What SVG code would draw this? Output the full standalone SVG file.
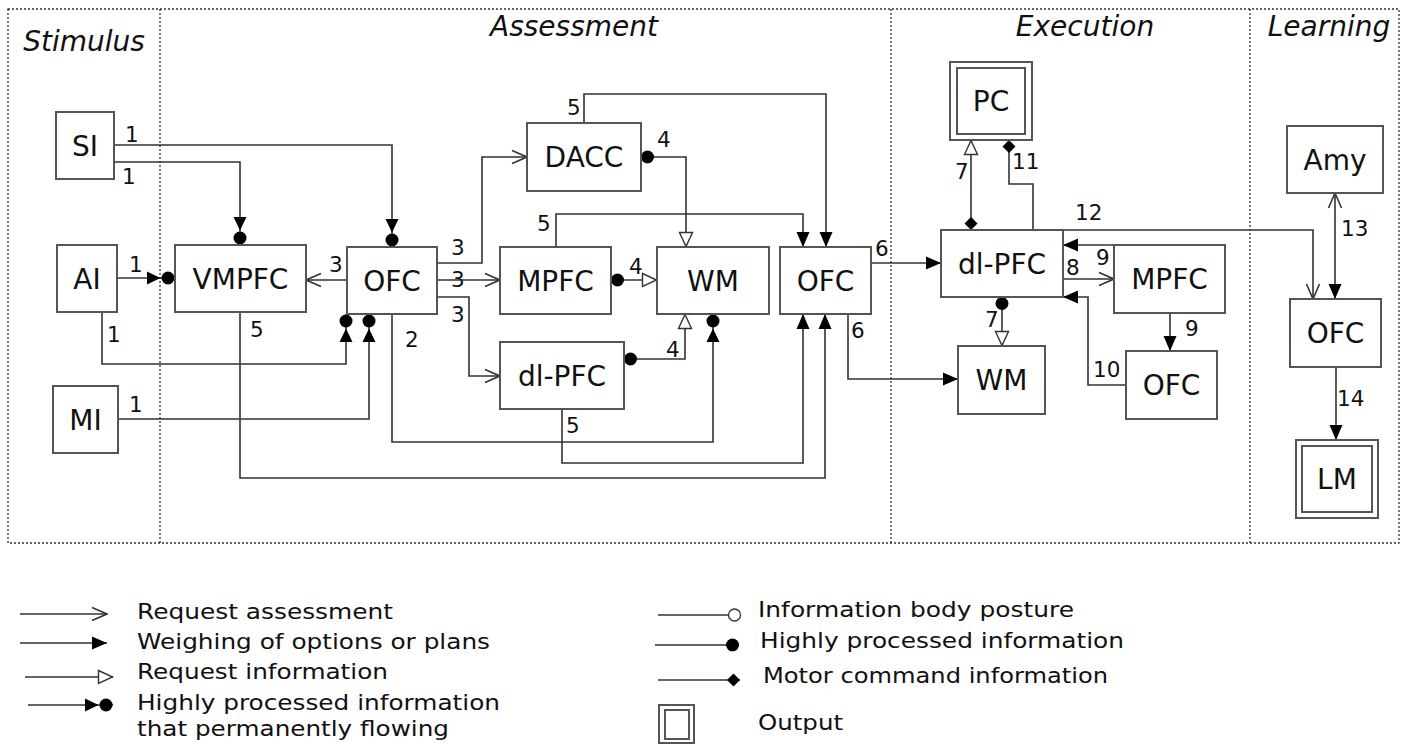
<svg xmlns="http://www.w3.org/2000/svg" width="1409" height="745" viewBox="0 0 1409 745">
<style>
.frame{fill:none;stroke:#333;stroke-width:1.3;stroke-dasharray:2,2}
.box{fill:#fff;stroke:#555;stroke-width:2}
.lbl{font-family:"DejaVu Sans","Liberation Sans",sans-serif;font-size:28px;fill:#111;text-anchor:middle}
.ttl{font-family:"DejaVu Sans","Liberation Sans",sans-serif;font-size:28px;font-style:italic;fill:#111;text-anchor:middle}
.num{font-family:"DejaVu Sans","Liberation Sans",sans-serif;font-size:21.5px;fill:#111}
.leg{font-family:"DejaVu Sans","Liberation Sans",sans-serif;font-size:22px;fill:#111}
.c{fill:none;stroke:#333;stroke-width:1.6}
</style>
<defs>
<marker id="tri" viewBox="-16 -8 17 16" refX="0" refY="0" markerWidth="17" markerHeight="16" markerUnits="userSpaceOnUse" orient="auto-start-reverse"><path d="M-15,-6.5 L0,0 L-15,6.5 Z" fill="#000"/></marker>
<marker id="chev" viewBox="-17 -9 18 18" refX="0" refY="0" markerWidth="18" markerHeight="18" markerUnits="userSpaceOnUse" orient="auto-start-reverse"><path d="M-15,-6.5 L0,0 L-15,6.5" fill="none" stroke="#333" stroke-width="1.6"/></marker>
<marker id="otri" viewBox="-16 -9 18 18" refX="0" refY="0" markerWidth="18" markerHeight="18" markerUnits="userSpaceOnUse" orient="auto-start-reverse"><path d="M-14.5,-6.5 L-0.5,0 L-14.5,6.5 Z" fill="#fff" stroke="#333" stroke-width="1.4"/></marker>
<marker id="tridot" viewBox="-30 -8 31 16" refX="0" refY="0" markerWidth="31" markerHeight="16" markerUnits="userSpaceOnUse" orient="auto-start-reverse"><circle cx="-7" cy="0" r="6.5" fill="#000"/><path d="M-28,-6.5 L-14.5,0 L-28,6.5 Z" fill="#000"/></marker>
<marker id="dot" viewBox="-14 -8 15 16" refX="0" refY="0" markerWidth="15" markerHeight="16" markerUnits="userSpaceOnUse" orient="auto-start-reverse"><circle cx="-6.5" cy="0" r="6.5" fill="#000"/></marker>
<marker id="ocirc" viewBox="-14 -8 15 16" refX="0" refY="0" markerWidth="15" markerHeight="16" markerUnits="userSpaceOnUse" orient="auto-start-reverse"><circle cx="-6.5" cy="0" r="6" fill="#fff" stroke="#333" stroke-width="1.3"/></marker>
<marker id="dmd" viewBox="-15 -8 16 16" refX="0" refY="0" markerWidth="16" markerHeight="16" markerUnits="userSpaceOnUse" orient="auto-start-reverse"><path d="M-13,0 L-6.5,-6.5 L0,0 L-6.5,6.5 Z" fill="#000"/></marker>
</defs>

<g id="frame">
<rect class="frame" x="8" y="9" width="1391" height="534"/>
<line class="frame" x1="160" y1="9" x2="160" y2="543"/>
<line class="frame" x1="891" y1="9" x2="891" y2="543"/>
<line class="frame" x1="1250" y1="9" x2="1250" y2="543"/>
<text class="ttl" x="84" y="51">Stimulus</text>
<text class="ttl" x="574" y="36">Assessment</text>
<text class="ttl" x="1085" y="36">Execution</text>
<text class="ttl" x="1329" y="36">Learning</text>
</g>

<g id="connectors">
<path class="c" d="M114,145 H392 V247" marker-end="url(#tridot)"/>
<path class="c" d="M114,162 H240 V245" marker-end="url(#tridot)"/>
<path class="c" d="M117,278 H175" marker-end="url(#tridot)"/>
<path class="c" d="M102,312 V364 H346 V314" marker-end="url(#tridot)"/>
<path class="c" d="M118,419 H369 V314" marker-end="url(#tridot)"/>
<path class="c" d="M347,280 H306" marker-end="url(#chev)"/>
<path class="c" d="M437,263 H482 V157 H527" marker-end="url(#chev)"/>
<path class="c" d="M437,280 H500" marker-end="url(#chev)"/>
<path class="c" d="M437,297 H469 V376 H500" marker-end="url(#chev)"/>
<path class="c" d="M584,123 V94 H826 V247" marker-end="url(#tri)"/>
<path class="c" d="M556,247 V214 H803 V247" marker-end="url(#tri)"/>
<path class="c" d="M641,157 H686 V247" marker-start="url(#dot)" marker-end="url(#otri)"/>
<path class="c" d="M611,280 H657" marker-start="url(#dot)" marker-end="url(#otri)"/>
<path class="c" d="M624,359 H685 V314" marker-start="url(#dot)" marker-end="url(#otri)"/>
<path class="c" d="M392,314 V442 H713 V314" marker-end="url(#tridot)"/>
<path class="c" d="M562,409 V463 H803 V314" marker-end="url(#tri)"/>
<path class="c" d="M240,312 V478 H825 V314" marker-end="url(#tri)"/>
<path class="c" d="M871,263 H941" marker-end="url(#tri)"/>
<path class="c" d="M848,314 V379 H958" marker-end="url(#tri)"/>
<path class="c" d="M971,230 V140" marker-start="url(#dmd)" marker-end="url(#otri)"/>
<path class="c" d="M1033,230 V184 H1009 V140" marker-end="url(#dmd)"/>
<path class="c" d="M1002,297 V346" marker-start="url(#dot)" marker-end="url(#otri)"/>
<path class="c" d="M1063,230 H1313 V299" marker-end="url(#chev)"/>
<path class="c" d="M1114,245 H1063" marker-end="url(#tri)"/>
<path class="c" d="M1063,279 H1114" marker-end="url(#chev)"/>
<path class="c" d="M1170,313 V351" marker-end="url(#tri)"/>
<path class="c" d="M1126,385 H1088 V297 H1063" marker-end="url(#tri)"/>
<path class="c" d="M1335,193 V299" marker-start="url(#chev)" marker-end="url(#tri)"/>
<path class="c" d="M1336,367 V440" marker-end="url(#tri)"/>
</g>

<g id="edge-labels">
<text class="num" x="125" y="142">1</text>
<text class="num" x="122" y="184">1</text>
<text class="num" x="129" y="272">1</text>
<text class="num" x="107" y="342">1</text>
<text class="num" x="129" y="412">1</text>
<text class="num" x="329" y="272">3</text>
<text class="num" x="250" y="337">5</text>
<text class="num" x="405" y="347">2</text>
<text class="num" x="451" y="255">3</text>
<text class="num" x="451" y="287">3</text>
<text class="num" x="451" y="322">3</text>
<text class="num" x="567" y="115">5</text>
<text class="num" x="657" y="147">4</text>
<text class="num" x="537" y="231">5</text>
<text class="num" x="629" y="274">4</text>
<text class="num" x="666" y="357">4</text>
<text class="num" x="566" y="433">5</text>
<text class="num" x="875" y="256">6</text>
<text class="num" x="851" y="338">6</text>
<text class="num" x="955" y="179">7</text>
<text class="num" x="1012" y="169">11</text>
<text class="num" x="1075" y="220">12</text>
<text class="num" x="1096" y="265">9</text>
<text class="num" x="1066" y="275">8</text>
<text class="num" x="985" y="327">7</text>
<text class="num" x="1185" y="336">9</text>
<text class="num" x="1093" y="377">10</text>
<text class="num" x="1341" y="236">13</text>
<text class="num" x="1337" y="406">14</text>
</g>

<g id="SI"><rect class="box" x="56" y="112" width="58" height="67"/><text class="lbl" x="85" y="156">SI</text></g>
<g id="AI"><rect class="box" x="57" y="245" width="60" height="67"/><text class="lbl" x="87" y="289">AI</text></g>
<g id="MI"><rect class="box" x="53" y="386" width="65" height="67"/><text class="lbl" x="85.5" y="430">MI</text></g>
<g id="VMPFC"><rect class="box" x="175" y="245" width="131" height="67"/><text class="lbl" x="240.5" y="289">VMPFC</text></g>
<g id="OFC-a1"><rect class="box" x="347" y="247" width="90" height="67"/><text class="lbl" x="392" y="291">OFC</text></g>
<g id="DACC"><rect class="box" x="527" y="123" width="114" height="68"/><text class="lbl" x="584" y="167">DACC</text></g>
<g id="MPFC-a"><rect class="box" x="500" y="247" width="111" height="67"/><text class="lbl" x="555.5" y="291">MPFC</text></g>
<g id="WM-a"><rect class="box" x="657" y="247" width="112" height="67"/><text class="lbl" x="713" y="291">WM</text></g>
<g id="OFC-a2"><rect class="box" x="780" y="247" width="91" height="67"/><text class="lbl" x="825.5" y="291">OFC</text></g>
<g id="dlPFC-a"><rect class="box" x="500" y="342" width="124" height="67"/><text class="lbl" x="562" y="386">dl-PFC</text></g>
<g id="PC"><rect class="box" x="950" y="62" width="82" height="78"/><rect class="box" x="957" y="68" width="68" height="66"/><text class="lbl" x="991" y="111">PC</text></g>
<g id="dlPFC-e"><rect class="box" x="941" y="230" width="122" height="67"/><text class="lbl" x="1002" y="274">dl-PFC</text></g>
<g id="WM-e"><rect class="box" x="958" y="346" width="87" height="68"/><text class="lbl" x="1001.5" y="390">WM</text></g>
<g id="MPFC-e"><rect class="box" x="1114" y="245" width="111" height="68"/><text class="lbl" x="1169.5" y="289">MPFC</text></g>
<g id="OFC-e"><rect class="box" x="1126" y="351" width="91" height="68"/><text class="lbl" x="1171.5" y="395">OFC</text></g>
<g id="Amy"><rect class="box" x="1287" y="126" width="96" height="67"/><text class="lbl" x="1335" y="170">Amy</text></g>
<g id="OFC-l"><rect class="box" x="1290" y="299" width="91" height="68"/><text class="lbl" x="1335.5" y="343">OFC</text></g>
<g id="LM"><rect class="box" x="1296" y="440" width="82" height="78"/><rect class="box" x="1302" y="446" width="70" height="66"/><text class="lbl" x="1337" y="489">LM</text></g>

<g id="legend">
<line class="c" x1="20" y1="614" x2="107" y2="614" marker-end="url(#chev)"/>
<text class="leg" x="137" y="619" textLength="256" lengthAdjust="spacingAndGlyphs">Request assessment</text>
<line class="c" x1="20" y1="643" x2="107" y2="643" marker-end="url(#tri)"/>
<text class="leg" x="137" y="649" textLength="353" lengthAdjust="spacingAndGlyphs">Weighing of options or plans</text>
<line class="c" x1="25" y1="677" x2="113" y2="677" marker-end="url(#otri)"/>
<text class="leg" x="137" y="679" textLength="251" lengthAdjust="spacingAndGlyphs">Request information</text>
<line class="c" x1="28" y1="705" x2="113" y2="705" marker-end="url(#tridot)"/>
<text class="leg" x="137" y="710" textLength="363" lengthAdjust="spacingAndGlyphs">Highly processed information</text>
<text class="leg" x="137" y="736" textLength="312" lengthAdjust="spacingAndGlyphs">that permanently flowing</text>
<line class="c" x1="658" y1="615" x2="741" y2="615" marker-end="url(#ocirc)"/>
<text class="leg" x="758" y="617" textLength="316" lengthAdjust="spacingAndGlyphs">Information body posture</text>
<line class="c" x1="655" y1="645" x2="739" y2="645" marker-end="url(#dot)"/>
<text class="leg" x="760" y="648" textLength="364" lengthAdjust="spacingAndGlyphs">Highly processed information</text>
<line class="c" x1="658" y1="680" x2="740" y2="680" marker-end="url(#dmd)"/>
<text class="leg" x="763" y="683" textLength="345" lengthAdjust="spacingAndGlyphs">Motor command information</text>
<rect class="box" x="659" y="705" width="35" height="38" stroke-width="1.5"/>
<rect class="box" x="665" y="710" width="24" height="29" stroke-width="1.5"/>
<text class="leg" x="758" y="730" textLength="85" lengthAdjust="spacingAndGlyphs">Output</text>
</g>
</svg>
